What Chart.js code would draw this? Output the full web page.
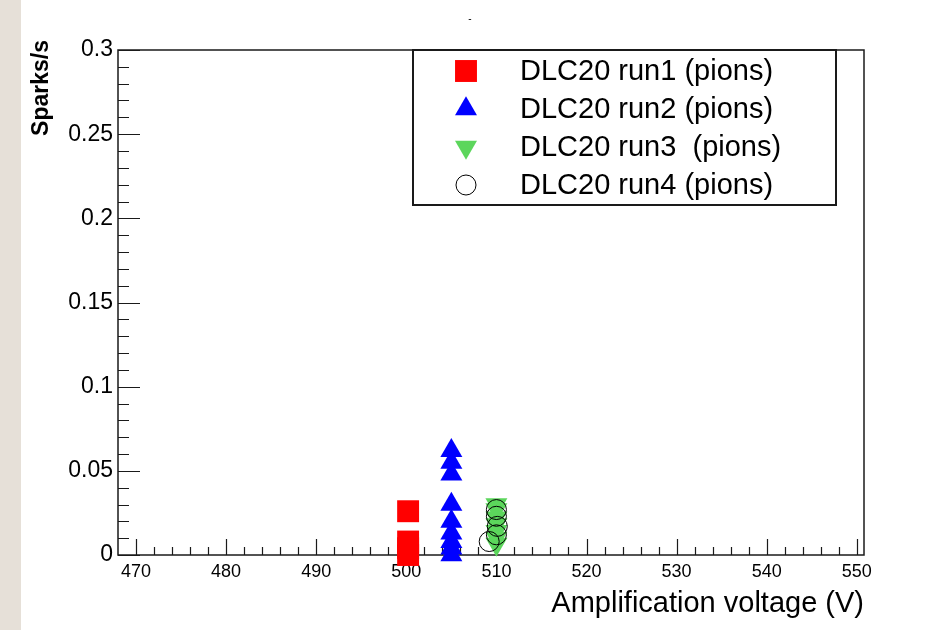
<!DOCTYPE html>
<html>
<head>
<meta charset="utf-8">
<script src="https://cdn.jsdelivr.net/npm/chart.js@4.4.0/dist/chart.umd.min.js"></script>
<style>
  html, body { margin: 0; padding: 0; background: #e6e0d8; }
  #wrap { position: absolute; left: 0; top: 0; width: 928px; height: 630px; }
</style>
</head>
<body>
<div id="wrap"><canvas id="myChart" width="928" height="630"></canvas></div>
<script>
// tick values and labels
const xTickValues = [470, 480, 490, 500, 510, 520, 530, 540, 550];
const xTickLabels = ['470', '480', '490', '500', '510', '520', '530', '540', '550'];
const yTickValues = [0, 0.05, 0.1, 0.15, 0.2, 0.25, 0.3];
const yTickLabels = ['0', '0.05', '0.1', '0.15', '0.2', '0.25', '0.3'];

// series
const seriesNames = ['DLC20 run1 (pions)', 'DLC20 run2 (pions)', 'DLC20 run3  (pions)', 'DLC20 run4 (pions)'];
const run1X = [500.2, 500.2, 500.2, 500.2];
const run1Y = [0.026, 0.008, 0.004, 0];
const run2X = [505, 505, 505, 505, 505, 505, 505, 505, 505];
const run2Y = [0.062, 0.055, 0.048, 0.030, 0.020, 0.013, 0.008, 0.004, 0];
const run3X = [510, 510, 510, 510, 510, 510, 510];
const run3Y = [0.030, 0.027, 0.022, 0.018, 0.014, 0.010, 0.0065];
const run4X = [510, 510, 510.1, 510, 509.2];
const run4Y = [0.027, 0.023, 0.017, 0.012, 0.008];

const fontFamily = '"Liberation Sans", Arial, sans-serif';

function toPoints(xs, ys) {
    return xs.map((x, i) => ({ x: x, y: ys[i] }));
}

const markerStyles = [
    { pointStyle: 'rect', radius: 15.5, rotation: 0, fill: '#ff0000', stroke: '#ff0000', lw: 0 },
    { pointStyle: 'triangle', radius: 12.7, rotation: 0, fill: '#0000ff', stroke: '#0000ff', lw: 0 },
    { pointStyle: 'triangle', radius: 12.7, rotation: 180, fill: '#5cd65c', stroke: '#5cd65c', lw: 0 },
    { pointStyle: 'circle', radius: 10, rotation: 0, fill: 'rgba(0,0,0,0)', stroke: '#000000', lw: 1 }
];

const allData = [toPoints(run1X, run1Y), toPoints(run2X, run2Y), toPoints(run3X, run3Y), toPoints(run4X, run4Y)];

const datasets = allData.map((d, i) => ({
    label: seriesNames[i],
    data: d,
    pointStyle: markerStyles[i].pointStyle,
    pointRadius: markerStyles[i].radius,
    pointRotation: markerStyles[i].rotation,
    pointBackgroundColor: markerStyles[i].fill,
    pointBorderColor: markerStyles[i].stroke,
    pointBorderWidth: markerStyles[i].lw,
    showLine: false,
    clip: false,
    order: 4 - i
}));

// white page, frame and inward ticks like ROOT
const rootFrame = {
    id: 'rootFrame',
    beforeDraw(chart) {
        const ctx = chart.ctx;
        ctx.save();
        ctx.fillStyle = '#ffffff';
        ctx.fillRect(21, 0, chart.width - 21, chart.height);
        ctx.fillStyle = '#000';
        ctx.font = '10px ' + fontFamily;
        ctx.textAlign = 'center';
        ctx.fillText('-', 470, 22);
        // y axis title, top aligned a little above the frame
        ctx.translate(42, 40);
        ctx.rotate(-Math.PI / 2);
        ctx.font = 'bold 23px ' + fontFamily;
        ctx.textAlign = 'right';
        ctx.textBaseline = 'middle';
        ctx.fillText('Sparks/s', 0, 0);
        ctx.restore();
    },
    beforeDatasetsDraw(chart) {
        const ctx = chart.ctx;
        const a = chart.chartArea;
        const xs = chart.scales.x, ys = chart.scales.y;
        ctx.save();
        ctx.strokeStyle = '#1a1a1a';
        ctx.lineWidth = 1.5;
        ctx.strokeRect(a.left, a.top, a.right - a.left, a.bottom - a.top);
        ctx.lineWidth = 1.2;
        ctx.beginPath();
        for (let v = 470; v <= 550; v += 2) {
            const px = Math.round(xs.getPixelForValue(v)) + 0.5;
            const len = (v % 10 === 0) ? 16 : 8;
            ctx.moveTo(px, a.bottom);
            ctx.lineTo(px, a.bottom - len);
        }
        for (let k = 0; k <= 30; k++) {
            const py = Math.round(ys.getPixelForValue(k / 100)) + 0.5;
            const len = (k % 5 === 0) ? 22 : 11;
            ctx.moveTo(a.left, py);
            ctx.lineTo(a.left + len, py);
        }
        ctx.stroke();
        ctx.restore();
    },
    afterDatasetsDraw(chart) {
        // legend box
        const ctx = chart.ctx;
        ctx.save();
        ctx.fillStyle = '#ffffff';
        ctx.fillRect(413, 50, 423, 155);
        ctx.strokeStyle = '#1a1a1a';
        ctx.lineWidth = 2;
        ctx.strokeRect(413, 50, 423, 155);
        const rows = [71, 109, 147, 185];
        rows.forEach((ry, i) => {
            const m = markerStyles[i];
            const cx = 466;
            ctx.beginPath();
            if (m.pointStyle === 'rect') {
                const s = m.radius * Math.SQRT1_2;
                ctx.rect(cx - s, ry - s, 2 * s, 2 * s);
            } else if (m.pointStyle === 'triangle') {
                let rad = m.rotation * Math.PI / 180;
                ctx.moveTo(cx + Math.sin(rad) * m.radius, ry - Math.cos(rad) * m.radius);
                for (let j = 0; j < 2; j++) {
                    rad += 2 * Math.PI / 3;
                    ctx.lineTo(cx + Math.sin(rad) * m.radius, ry - Math.cos(rad) * m.radius);
                }
                ctx.closePath();
            } else {
                ctx.arc(cx, ry, m.radius, 0, Math.PI * 2);
            }
            ctx.fillStyle = m.fill;
            ctx.fill();
            if (m.lw > 0) {
                ctx.lineWidth = m.lw;
                ctx.strokeStyle = m.stroke;
                ctx.stroke();
            }
            ctx.fillStyle = '#000';
            ctx.font = '29px ' + fontFamily;
            ctx.textAlign = 'left';
            ctx.textBaseline = 'middle';
            ctx.fillText(seriesNames[i], 520, ry + 1);
        });
        ctx.restore();
    }
};

const myChart = new Chart(document.getElementById('myChart'), {
    type: 'scatter',
    data: { datasets: datasets },
    options: {
        responsive: false,
        animation: false,
        layout: { padding: { left: 0, top: 50, right: 64, bottom: 0 } },
        plugins: { legend: { display: false }, tooltip: { enabled: false } },
        scales: {
            x: {
                type: 'linear',
                min: 468,
                max: 550.8,
                grid: { display: false, drawTicks: false },
                border: { display: false },
                afterBuildTicks: s => { s.ticks = xTickValues.map(v => ({ value: v })); },
                afterFit: s => { s.height = 75; },
                ticks: {
                    autoSkip: false,
                    maxRotation: 0,
                    padding: 6,
                    color: '#000',
                    font: { family: fontFamily, size: 18 },
                    callback: (v, i) => xTickLabels[i]
                },
                title: {
                    display: true,
                    text: 'Amplification voltage (V)',
                    align: 'end',
                    color: '#000',
                    font: { family: fontFamily, size: 29 },
                    padding: { top: 0, bottom: 9 }
                }
            },
            y: {
                type: 'linear',
                min: 0,
                max: 0.3,
                grid: { display: false, drawTicks: false },
                border: { display: false },
                afterBuildTicks: s => { s.ticks = yTickValues.map(v => ({ value: v })); },
                afterFit: s => { s.width = 118; },
                ticks: {
                    padding: 5,
                    color: '#000',
                    font: { family: fontFamily, size: 23 },
                    callback: (v, i) => yTickLabels[i]
                },
                title: { display: false }
            }
        }
    },
    plugins: [rootFrame]
});
</script>
</body>
</html>
